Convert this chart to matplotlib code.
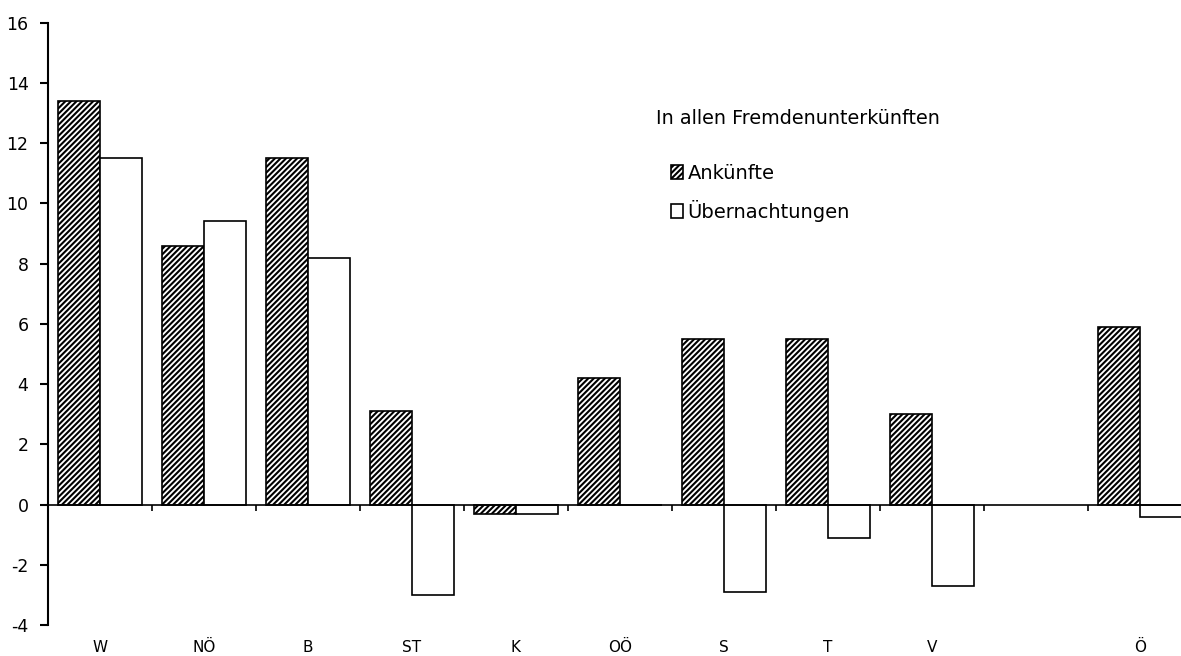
import numpy as np
import matplotlib.pyplot as plt
from matplotlib.transforms import blended_transform_factory

plt.rcParams['font.family'] = ['DejaVu Sans']
plt.rcParams['hatch.linewidth'] = 1.5
plt.rcParams['axes.unicode_minus'] = False

# data
regions = ['W', 'NÖ', 'B', 'ST', 'K', 'OÖ', 'S', 'T', 'V', '', 'Ö']
ankuenfte = [13.4, 8.6, 11.5, 3.1, -0.3, 4.2, 5.5, 5.5, 3.0, np.nan, 5.9]
uebernachtungen = [11.5, 9.4, 8.2, -3.0, -0.3, 0.0, -2.9, -1.1, -2.7, np.nan, -0.4]
yticks = [-4, -2, 0, 2, 4, 6, 8, 10, 12, 14, 16]

W, H = 1181, 656
fig = plt.figure(figsize=(W/100, H/100), dpi=100)
# axes runs a bit past the right edge like in the original
left, right = 48, 1192
top, bottom = 22.7, 625
ax = fig.add_axes([left/W, (H-bottom)/H, (right-left)/W, (bottom-top)/H])

x = np.arange(len(regions))
bw = 0.404
ax.bar(x - bw/2, ankuenfte, bw, color='white', edgecolor='black', hatch='//////',
       linewidth=1.2, label='Ankünfte')
ax.bar(x + bw/2, uebernachtungen, bw, color='white', edgecolor='black',
       linewidth=1.2, label='Übernachtungen')

ax.set_xlim(-0.5, len(regions) - 0.5)
ax.set_ylim(-4, 16)
ax.set_yticks(yticks)
ax.tick_params(axis='y', direction='out', length=6, width=1.5, labelsize=12.5, pad=8)

ax.spines['top'].set_visible(False)
ax.spines['right'].set_visible(False)
ax.spines['left'].set_linewidth(1.5)
ax.spines['bottom'].set_position(('data', 0))
ax.spines['bottom'].set_linewidth(1.2)
ax.set_xticks(x[:-1] + 0.5)
ax.set_xticklabels([])
ax.tick_params(axis='x', direction='out', length=4, width=1.2)

trans = blended_transform_factory(ax.transData, ax.transAxes)
for xi, r in zip(x, regions):
    ax.text(xi, -0.038, r, transform=trans, ha='center', va='center', fontsize=11)

fig.text(656/W, 1 - 119/H, 'In allen Fremdenunterkünften', fontsize=13.8,
         ha='left', va='center')
ax.legend(loc='upper left', bbox_to_anchor=(671/W, 1 - 164/H),
          bbox_transform=fig.transFigure, frameon=False, fontsize=14,
          handlelength=0.6, handleheight=0.7, handletextpad=0.25,
          labelspacing=0.85, borderpad=0, borderaxespad=0)

fig.savefig('out.png', dpi=100)
